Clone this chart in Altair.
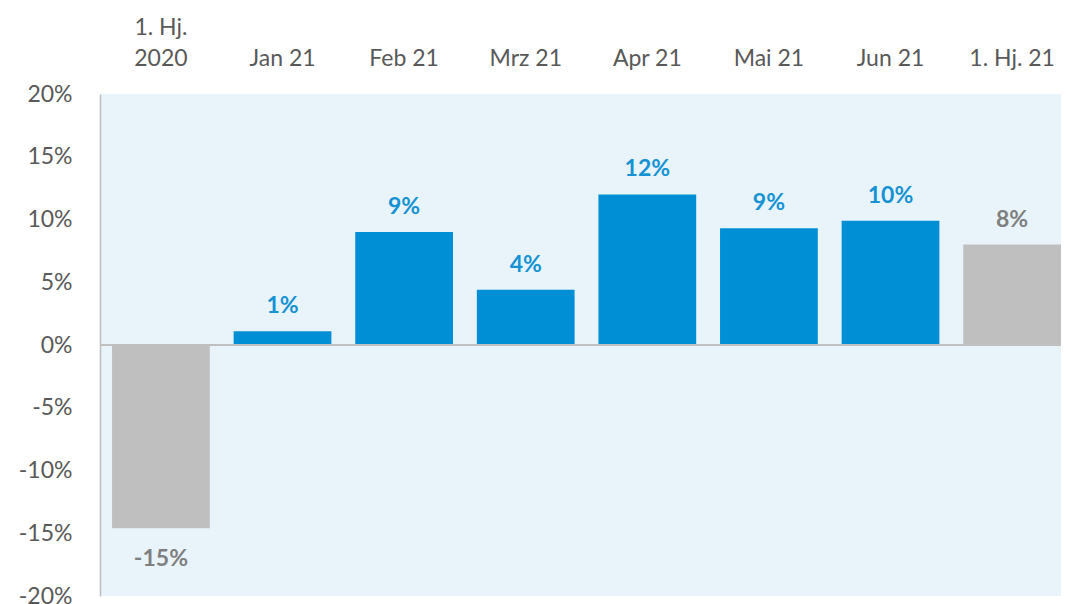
import altair as alt
import pandas as pd

categories = ["1. Hj.|2020", "Jan 21", "Feb 21", "Mrz 21", "Apr 21", "Mai 21", "Jun 21", "1. Hj. 21"]
values = [-0.146, 0.011, 0.090, 0.044, 0.120, 0.093, 0.099, 0.080]
kinds = ["Halbjahr", "Monat", "Monat", "Monat", "Monat", "Monat", "Monat", "Halbjahr"]
labels = ["-15%", "1%", "9%", "4%", "12%", "9%", "10%", "8%"]
y_ticks = [-0.20, -0.15, -0.10, -0.05, 0.0, 0.05, 0.10, 0.15, 0.20]

df = pd.DataFrame({"cat": categories, "value": values, "kind": kinds, "label": labels})

FONT = "Lato"
x_enc = alt.X(
    "cat:N",
    sort=categories,
    scale=alt.Scale(paddingInner=0.196, paddingOuter=0.0495, align=1),
    axis=alt.Axis(
        orient="top", title=None, labelAngle=0, ticks=False, tickSize=0, domain=False,
        labelExpr="indexof(datum.label, '|') >= 0 ? split(datum.label, '|') : ['', datum.label]",
        labelFontSize=23, labelColor="#595959",
        labelFont=FONT, labelPadding=78, labelLineHeight=31, labelBaseline="top",
    ),
)
y_scale = alt.Scale(domain=[-0.2, 0.2], nice=False)
y_enc = alt.Y(
    "value:Q",
    scale=y_scale,
    axis=alt.Axis(
        title=None, values=y_ticks, labelExpr="round(datum.value*100) + '%'",
        grid=False, ticks=False, tickSize=0, domain=True, domainColor="#BFBFBF",
        domainWidth=1.5, labelFontSize=23, labelColor="#595959", labelFont=FONT,
        labelPadding=28,
    ),
)

bar_color = alt.Color("kind:N", scale=alt.Scale(domain=["Monat", "Halbjahr"], range=["#008FD5", "#BFBFBF"]), legend=None)
text_color = alt.Color("kind:N", scale=alt.Scale(domain=["Monat", "Halbjahr"], range=["#1592D3", "#7F7F7F"]), legend=None)

base = alt.Chart(df)
bars = base.mark_bar().encode(x=x_enc, y=y_enc, y2=alt.datum(0), color=bar_color)
zero = base.mark_rule(color="#BFBFBF", strokeWidth=2).encode(y=alt.datum(0))
pos_text = base.transform_filter("datum.value >= 0").mark_text(
    font=FONT, fontSize=23, fontWeight="bold", baseline="alphabetic", dy=-18
).encode(x=x_enc, y=alt.Y("value:Q", scale=y_scale), text="label:N", color=text_color)
neg_text = base.transform_filter("datum.value < 0").mark_text(
    font=FONT, fontSize=23, fontWeight="bold", baseline="alphabetic", dy=38
).encode(x=x_enc, y=alt.Y("value:Q", scale=y_scale), text="label:N", color=text_color)

texts = alt.layer(pos_text, neg_text)

chart = (
    alt.layer(bars, zero, texts)
    .resolve_scale(color="independent")
    .properties(
        width=961, height=502,
        autosize=alt.AutoSizeParams(type="none"),
        padding={"left": 92, "top": 86, "right": 0, "bottom": 8},
    )
    .configure(font=FONT)
    .configure_view(fill="#E9F4FA", stroke=None)
)

chart.save("out.html", embed_options={"renderer": "svg", "actions": False})
